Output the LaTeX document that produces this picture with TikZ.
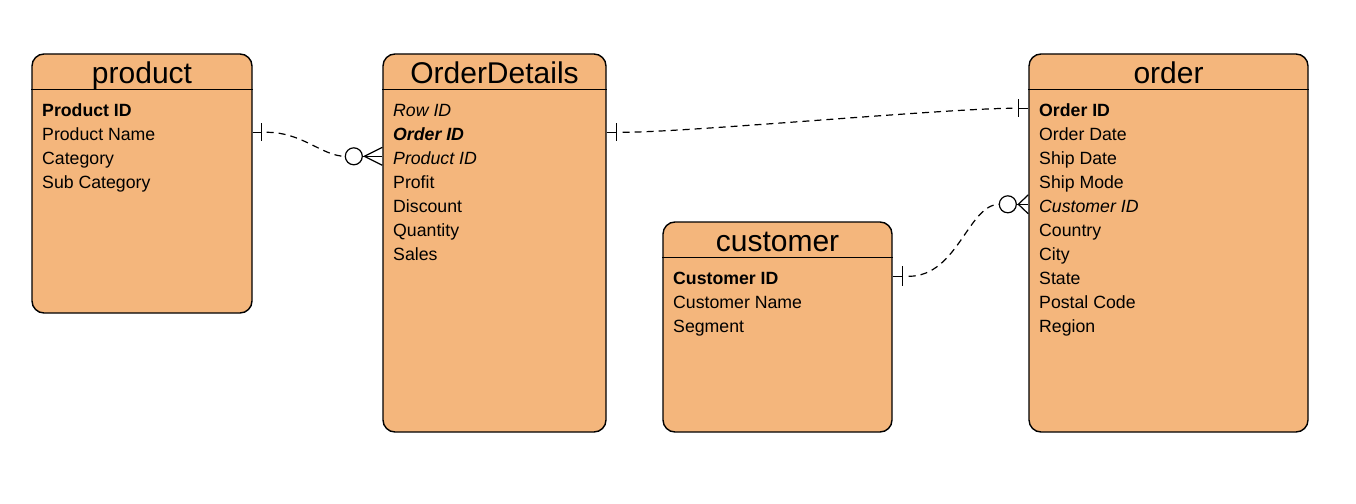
\documentclass[tikz,border=0pt]{standalone}
\usepackage{fontspec}
\setmainfont{Liberation Sans}
\usetikzlibrary{calc}
\definecolor{entfill}{HTML}{F4B67C}
\begin{document}
\begin{tikzpicture}[x=1pt,y=-1pt,
  entity/.style={draw=black, line width=1.4pt, fill=entfill, rounded corners=12pt, inner sep=0pt, minimum width=#1},
  ttl/.style={anchor=base, font=\fontsize{30}{34}\selectfont, inner sep=0pt},
  row/.style={anchor=base west, font=\fontsize{17.7}{20}\selectfont, inner sep=0pt},
  hdr/.style={line width=1.3pt},
  rel/.style={line width=1.2pt, dash pattern=on 7pt off 5pt},
  sol/.style={line width=1.2pt},
]
\useasboundingbox[fill=white] (0,0) rectangle (1356,503);

% entities
\node[entity=220pt, minimum height=259pt] (product) at (142,183.5) {};
\node[entity=223pt, minimum height=378pt] (details) at (494.5,243) {};
\node[entity=279pt, minimum height=378pt] (order) at (1168.5,243) {};
\node[entity=229pt, minimum height=210pt] (customer) at (777.5,327) {};

% header lines
\draw[hdr] ($(product.north west)+(0,36)$) -- ($(product.north east)+(0,36)$);
\draw[hdr] ($(details.north west)+(0,36)$) -- ($(details.north east)+(0,36)$);
\draw[hdr] ($(order.north west)+(0,36)$) -- ($(order.north east)+(0,36)$);
\draw[hdr] ($(customer.north west)+(0,36)$) -- ($(customer.north east)+(0,36)$);

% titles
\node[ttl] (tproduct) at (142,83.5) {product};
\node[ttl] (tdetails) at (494.5,83.5) {OrderDetails};
\node[ttl] (torder) at (1168.5,83.5) {order};
\node[ttl] (tcustomer) at (777.5,251.5) {customer};

% product rows
\node[row] (p1) at (42,116) {\textbf{Product ID}};
\node[row] (p2) at (42,140) {Product Name};
\node[row] (p3) at (42,164) {Category};
\node[row] (p4) at (42,188) {Sub Category};

% OrderDetails rows
\node[row] (d1) at (393,116) {\textit{Row ID}};
\node[row] (d2) at (393,140) {\textbf{\textit{Order ID}}};
\node[row] (d3) at (393,164) {\textit{Product ID}};
\node[row] (d4) at (393,188) {Profit};
\node[row] (d5) at (393,212) {Discount};
\node[row] (d6) at (393,236) {Quantity};
\node[row] (d7) at (393,260) {Sales};

% order rows
\node[row] (o1) at (1039,116) {\textbf{Order ID}};
\node[row] (o2) at (1039,140) {Order Date};
\node[row] (o3) at (1039,164) {Ship Date};
\node[row] (o4) at (1039,188) {Ship Mode};
\node[row] (o5) at (1039,212) {\textit{Customer ID}};
\node[row] (o6) at (1039,236) {Country};
\node[row] (o7) at (1039,260) {City};
\node[row] (o8) at (1039,284) {State};
\node[row] (o9) at (1039,308) {Postal Code};
\node[row] (o10) at (1039,332) {Region};

% customer rows
\node[row] (c1) at (673,284) {\textbf{Customer ID}};
\node[row] (c2) at (673,308) {Customer Name};
\node[row] (c3) at (673,332) {Segment};

% connection points
\coordinate (a1) at ($(product.north east)+(0,79)$);
\coordinate (a2) at ($(details.north west)+(0,103)$);
\coordinate (b1) at ($(details.north east)+(0,79)$);
\coordinate (b2) at ($(order.north west)+(0,55)$);
\coordinate (c1p) at ($(customer.north east)+(0,55)$);
\coordinate (c2p) at ($(order.north west)+(0,151)$);

% relation 1: product -- OrderDetails
\draw[sol] (a1) -- ++(9,0);
\draw[sol] ($(a1)+(9,-9)$) -- ++(0,18);
\draw[rel] ($(a1)+(14,0)$) .. controls ($(a1)+(50,0)$) and ($(a2)+(-60,0)$) .. ($(a2)+(-37,0)$);
\draw[sol] ($(a2)+(-28.5,0)$) circle (8.5);
\draw[sol] ($(a2)+(-20,0)$) -- (a2);
\draw[sol] ($(a2)+(-18,0)$) -- ($(a2)+(0,-9)$);
\draw[sol] ($(a2)+(-18,0)$) -- ($(a2)+(0,9)$);

% relation 2: OrderDetails -- order
\draw[sol] (b1) -- ++(10,0);
\draw[sol] ($(b1)+(10,-9)$) -- ++(0,18);
\draw[rel] ($(b1)+(16,0)$) .. controls ($(b1)+(80,0)$) and ($(b2)+(-80,0)$) .. ($(b2)+(-16,0)$);
\draw[sol] (b2) -- ++(-10,0);
\draw[sol] ($(b2)+(-10,-9)$) -- ++(0,18);

% relation 3: customer -- order
\draw[sol] (c1p) -- ++(10,0);
\draw[sol] ($(c1p)+(10,-10)$) -- ++(0,20);
\draw[rel] ($(c1p)+(16,0)$) .. controls ($(c1p)+(65,0)$) and ($(c2p)+(-60,0)$) .. ($(c2p)+(-29,0)$);
\draw[sol] ($(c2p)+(-20.5,0)$) circle (8.5);
\draw[sol] ($(c2p)+(-12,0)$) -- (c2p);
\draw[sol] ($(c2p)+(-10,0)$) -- ($(c2p)+(0,-9.5)$);
\draw[sol] ($(c2p)+(-10,0)$) -- ($(c2p)+(0,9.5)$);
\end{tikzpicture}
\end{document}
